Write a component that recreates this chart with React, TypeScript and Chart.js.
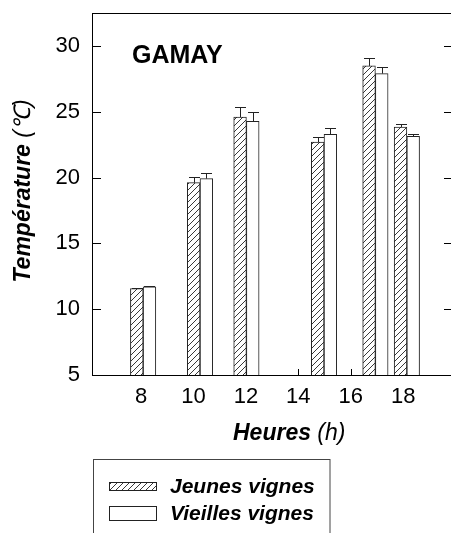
import React, { useEffect, useRef } from "react";
import { Chart, registerables } from "chart.js";

Chart.register(...registerables);

// ---- data ----
const hours = [8.08, 10.25, 12.02, 14.98, 16.94, 18.14];
const jeunes = [11.56, 19.61, 24.6, 22.7, 28.48, 23.84];
const jeunesErr = [0.08, 0.44, 0.79, 0.41, 0.59, 0.25];
const vieilles = [11.69, 19.92, 24.28, 23.29, 27.9, 23.14];
const vieillesErr = [0.05, 0.45, 0.68, 0.5, 0.48, 0.15];
const xTickValues = [8, 10, 12, 14, 16, 18];
const yTickValues = [5, 10, 15, 20, 25, 30];
const seriesNames = ["Jeunes vignes", "Vieilles vignes"];
const panelTitle = "GAMAY";
const yTitleMain = "Température";
const yTitleUnit = " (℃)";
const xTitleMain = "Heures";
const xTitleUnit = " (h)";

const FONT = '"Liberation Sans", Arial, Helvetica, sans-serif';

function makeHatch(ctx: CanvasRenderingContext2D): CanvasPattern {
  const c = document.createElement("canvas");
  c.width = 6;
  c.height = 6;
  const g = c.getContext("2d")!;
  g.fillStyle = "#ffffff";
  g.fillRect(0, 0, 6, 6);
  g.strokeStyle = "#222222";
  g.lineWidth = 0.9;
  g.beginPath();
  g.moveTo(0, 6);
  g.lineTo(6, 0);
  g.moveTo(-1, 1);
  g.lineTo(1, -1);
  g.moveTo(5, 7);
  g.lineTo(7, 5);
  g.stroke();
  return ctx.createPattern(c, "repeat")!;
}

export default function App() {
  const canvasRef = useRef<HTMLCanvasElement | null>(null);

  useEffect(() => {
    const canvas = canvasRef.current!;
    const ctx0 = canvas.getContext("2d")!;
    const hatch = makeHatch(ctx0);
    const values = [jeunes, vieilles];
    const errs = [jeunesErr, vieillesErr];

    const decor = {
      id: "decor",
      beforeDatasetsDraw(chart: any) {
        const { ctx, chartArea: a, scales } = chart;
        const x = scales.x;
        const y = scales.y;
        ctx.save();
        ctx.strokeStyle = "#000";
        ctx.lineWidth = 1;
        ctx.beginPath();
        ctx.moveTo(a.left, Math.round(a.top) + 0.5);
        ctx.lineTo(a.right, Math.round(a.top) + 0.5);
        ctx.moveTo(Math.round(a.right) - 0.5, a.top);
        ctx.lineTo(Math.round(a.right) - 0.5, a.bottom);
        for (const v of yTickValues) {
          if (v === 5) continue;
          const py = Math.round(y.getPixelForValue(v)) + 0.5;
          ctx.moveTo(a.left, py);
          ctx.lineTo(a.left + 9, py);
          ctx.moveTo(a.right - 9, py);
          ctx.lineTo(a.right, py);
        }
        for (const v of xTickValues) {
          const px = Math.round(x.getPixelForValue(v)) + 0.5;
          ctx.moveTo(px, a.bottom);
          ctx.lineTo(px, a.bottom - 6);
        }
        ctx.stroke();
        ctx.restore();
      },
      afterDatasetsDraw(chart: any) {
        const { ctx, scales } = chart;
        const y = scales.y;
        ctx.save();
        ctx.strokeStyle = "#222";
        ctx.lineWidth = 1;
        ctx.beginPath();
        for (let d = 0; d < 2; d++) {
          const meta = chart.getDatasetMeta(d);
          meta.data.forEach((el: any, i: number) => {
            const top = Math.round(y.getPixelForValue(values[d][i] + errs[d][i])) + 0.5;
            const px = Math.round(el.x) + 0.5;
            ctx.moveTo(px, el.y);
            ctx.lineTo(px, top);
            ctx.moveTo(px - 5.5, top);
            ctx.lineTo(px + 5.5, top);
          });
        }
        ctx.stroke();
        ctx.restore();
      },
      afterDraw(chart: any) {
        const { ctx } = chart;
        ctx.save();
        ctx.fillStyle = "#000";
        ctx.textBaseline = "alphabetic";
        ctx.textAlign = "left";

        // panel title
        ctx.font = `bold 25px ${FONT}`;
        ctx.fillText(panelTitle, 132, 63);

        // x title
        ctx.font = `italic bold 23px ${FONT}`;
        const wx = ctx.measureText(xTitleMain).width;
        ctx.fillText(xTitleMain, 233, 440);
        ctx.font = `italic 23px ${FONT}`;
        ctx.fillText(xTitleUnit, 233 + wx, 440);

        // y title (rotated)
        ctx.save();
        ctx.translate(29.5, 191);
        ctx.rotate(-Math.PI / 2);
        ctx.font = `italic bold 23px ${FONT}`;
        const w1 = ctx.measureText(yTitleMain).width;
        ctx.font = `italic 23px ${FONT}`;
        const w2 = ctx.measureText(yTitleUnit).width;
        const start = -(w1 + w2) / 2;
        ctx.font = `italic bold 23px ${FONT}`;
        ctx.fillText(yTitleMain, start, 0);
        ctx.font = `italic 23px ${FONT}`;
        ctx.fillText(yTitleUnit, start + w1, 0);
        ctx.restore();

        // legend box
        ctx.strokeStyle = "#444";
        ctx.lineWidth = 1;
        ctx.strokeRect(93.5, 459.5, 236.5, 100);
        ctx.fillStyle = hatch;
        ctx.fillRect(109, 482, 47, 8);
        ctx.strokeStyle = "#222";
        ctx.strokeRect(109.5, 482.5, 47, 8);
        ctx.fillStyle = "#fff";
        ctx.fillRect(109, 506, 47, 14);
        ctx.strokeRect(109.5, 506.5, 47, 14);
        ctx.fillStyle = "#000";
        ctx.font = `italic bold 21px ${FONT}`;
        ctx.fillText(seriesNames[0], 170, 492.5);
        ctx.fillText(seriesNames[1], 170, 520);
        ctx.restore();
      },
    };

    const chart = new Chart(canvas, {
      type: "bar",
      data: {
        datasets: [
          {
            label: seriesNames[0],
            data: hours.map((h, i) => ({ x: h, y: jeunes[i] })),
            backgroundColor: hatch,
            borderColor: "#222",
            borderWidth: 1,
            base: 5,
            barThickness: 12.7,
          } as any,
          {
            label: seriesNames[1],
            data: hours.map((h, i) => ({ x: h, y: vieilles[i] })),
            backgroundColor: "#ffffff",
            borderColor: "#222",
            borderWidth: 1,
            base: 5,
            barThickness: 12.7,
          } as any,
        ],
      },
      options: {
        responsive: false,
        animation: false,
        layout: { padding: { top: 13, right: 7, left: 0, bottom: 0 } },
        plugins: {
          legend: { display: false },
          tooltip: { enabled: false },
          title: { display: false },
        },
        scales: {
          x: {
            type: "linear",
            min: 6.13,
            max: 19.9,
            offset: false,
            grid: { display: false, drawTicks: false, tickLength: 0 },
            border: { display: true, color: "#000", width: 1 },
            ticks: {
              color: "#000",
              padding: 9,
              font: { family: FONT, size: 22, lineHeight: 1.2 },
              maxRotation: 0,
              autoSkip: false,
            },
            afterBuildTicks: (s: any) => {
              s.ticks = xTickValues.map((v) => ({ value: v }));
            },
            afterFit: (s: any) => {
              s.height = 158;
              s.paddingLeft = 0;
              s.paddingRight = 0;
            },
          },
          y: {
            type: "linear",
            min: 5,
            max: 32.5,
            grid: { display: false, drawTicks: false, tickLength: 0 },
            border: { display: true, color: "#000", width: 1 },
            ticks: {
              color: "#000",
              padding: 12,
              font: { family: FONT, size: 22, lineHeight: 1.2 },
              autoSkip: false,
            },
            afterBuildTicks: (s: any) => {
              s.ticks = yTickValues.map((v) => ({ value: v }));
            },
            afterFit: (s: any) => {
              s.width = 92;
              s.paddingTop = 0;
              s.paddingBottom = 0;
            },
          },
        },
      } as any,
      plugins: [decor],
    });

    return () => chart.destroy();
  }, []);

  return (
    <div
      style={{
        position: "fixed",
        left: 0,
        top: 0,
        width: 451,
        height: 533,
        overflow: "hidden",
        background: "#fff",
      }}
    >
      <canvas
        ref={canvasRef}
        width={460}
        height={533}
        style={{ display: "block", width: 460, height: 533 }}
      />
    </div>
  );
}
